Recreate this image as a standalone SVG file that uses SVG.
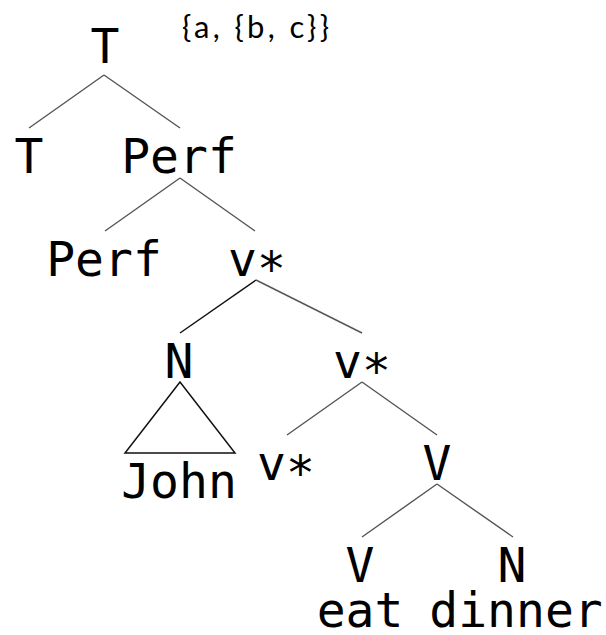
<svg xmlns="http://www.w3.org/2000/svg" width="606" height="635" viewBox="0 0 606 635">
<style>
.lbl{font-family:"DejaVu Sans Mono",monospace;font-size:48px;fill:#000;text-anchor:middle}
.set{font-family:"Lato","Liberation Sans",sans-serif;font-size:31px;fill:#000}
.br{stroke:#555;stroke-width:1.4;fill:none}
.dk{stroke:#111;stroke-width:1.5;fill:none}
</style>
<rect width="606" height="635" fill="#fff"/>
<text class="set" x="182" y="38" textLength="147" lengthAdjust="spacing">{a, {b, c}}</text>
<g id="connectors">
<path class="br" d="M104,75 L29,128 M104,75 L180,128"/>
<path class="br" d="M180,178 L105,231 M180,178 L255,231"/>
<path class="dk" d="M256,280 L180,333"/>
<path class="br" d="M256,280 L362,333"/>
<path class="dk" d="M180,382 L125,453 L235,453 Z"/>
<path class="br" d="M362,382 L287,435 M362,382 L437,435"/>
<path class="br" d="M437,484 L362,537 M437,484 L513,537"/>
</g>
<g id="n-T-root"><text class="lbl" x="105" y="63">T</text></g>
<g id="n-T"><text class="lbl" x="29" y="173">T</text></g>
<g id="n-Perf1"><text class="lbl" x="179" y="173">Perf</text></g>
<g id="n-Perf2"><text class="lbl" x="104" y="276">Perf</text></g>
<g id="n-vstar1"><text class="lbl" x="257" y="276">v∗</text></g>
<g id="n-N1"><text class="lbl" x="179" y="378">N</text></g>
<g id="n-vstar2"><text class="lbl" x="362" y="378">v∗</text></g>
<g id="n-John"><text class="lbl" x="179" y="498">John</text></g>
<g id="n-vstar3"><text class="lbl" x="286" y="480">v∗</text></g>
<g id="n-V1"><text class="lbl" x="437" y="480">V</text></g>
<g id="n-V2"><text class="lbl" x="360" y="582">V</text></g>
<g id="n-N2"><text class="lbl" x="512" y="582">N</text></g>
<g id="n-eat"><text class="lbl" x="360" y="627">eat</text></g>
<g id="n-dinner"><text class="lbl" x="516" y="627">dinner</text></g>
</svg>
